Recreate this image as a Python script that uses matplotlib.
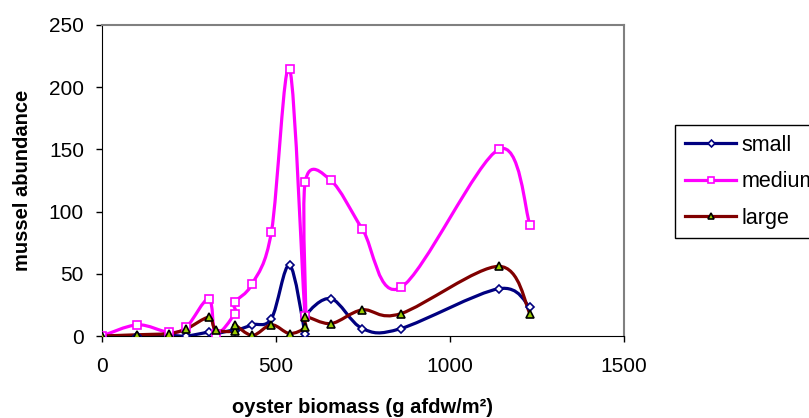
import numpy as np
import matplotlib
matplotlib.use("Agg")
import matplotlib.pyplot as plt
from matplotlib.path import Path
from matplotlib.patches import PathPatch
from matplotlib.lines import Line2D

plt.rcParams['font.family'] = ['Liberation Sans', 'DejaVu Sans']

# data (same oyster biomass sites for every size class)
biomass = [0, 102, 192, 242, 307, 327, 381, 381, 432, 487, 539, 584, 584, 658, 748, 859, 1140, 1230]
small = [0, 0, 0.5, 0, 3, 2, 5, 4, 9, 14, 57, 2, 16, 30, 6, 6, 38, 23]
medium = [0, 9, 3, 7, 30, 2, 18, 27, 42, 84, 215, 16, 124, 125, 86, 39, 150, 89]
large = [0, 1, 2, 5.6, 15, 5, 4, 9, 0.5, 9, 2, 7, 15.5, 10, 21, 18, 56, 18]


def smooth_path(xs, ys):
    # excel-like smoothed line: cubic bezier through every point
    p = np.column_stack([xs, ys]).astype(float)
    n = len(p)
    verts = [p[0]]
    codes = [Path.MOVETO]
    for i in range(n - 1):
        p0 = p[max(i - 1, 0)]
        p1 = p[i]
        p2 = p[i + 1]
        p3 = p[min(i + 2, n - 1)]
        c1 = p1 + (p2 - p0) / 6.0
        c2 = p2 - (p3 - p1) / 6.0
        verts += [c1, c2, p2]
        codes += [Path.CURVE4] * 3
    return Path(verts, codes)


fig = plt.figure(figsize=(8.09, 4.18), dpi=100)
ax = fig.add_axes([102 / 809, 1 - 336 / 418, 522 / 809, 311 / 418])

series = [
    ("small", small, "#000080", "D", "white", "#000080", 4.5),
    ("medium", medium, "#ff00ff", "s", "white", "#ff00ff", 6),
    ("large", large, "#800000", "^", "#99cc00", "black", 6),
]

handles = []
for name, vals, col, mk, mfc, mec, ms in series:
    ax.add_patch(PathPatch(smooth_path(biomass, vals), fill=False, edgecolor=col,
                           lw=2.3, capstyle='round', joinstyle='round', zorder=2))
    ax.plot(biomass, vals, ls='none', marker=mk, mfc=mfc, mec=mec, ms=ms, mew=1.2, zorder=3)
    handles.append(Line2D([], [], color=col, lw=2.3, marker=mk, mfc=mfc, mec=mec, ms=ms - 1, mew=1.2))

ax.set_xlim(0, 1500)
ax.set_ylim(0, 250)
ax.set_xticks([0, 500, 1000, 1500])
ax.set_yticks([0, 50, 100, 150, 200, 250])
ax.tick_params(direction='out', length=4, width=1, labelsize=15, pad=9)
ax.tick_params(axis='x', pad=11)
for s in ['top', 'right']:
    ax.spines[s].set_color('#808080')
    ax.spines[s].set_linewidth(1.5)
for s in ['left', 'bottom']:
    ax.spines[s].set_color('black')
ax.set_xlabel("oyster biomass (g afdw/m²)", fontsize=14.5, fontweight='bold', labelpad=16)
ax.set_ylabel("mussel abundance", fontsize=14.5, fontweight='bold', labelpad=12)

# legend box runs past the right edge, as in the original
leg = fig.legend(handles, ["small", "medium", "large"], loc='upper left',
                 bbox_to_anchor=(675 / 809, 1 - 125 / 418), fontsize=15.5,
                 fancybox=False, framealpha=1, edgecolor='black', handlelength=2.4,
                 handletextpad=0.25, borderpad=0.45, labelspacing=0.72, borderaxespad=0)
leg.get_frame().set_linewidth(1)

fig.savefig("out.png", dpi=100)
